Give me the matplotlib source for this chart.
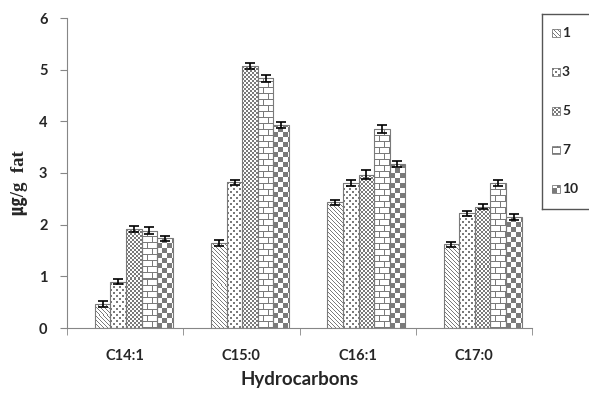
import numpy as np
import matplotlib
matplotlib.use("Agg")
from matplotlib import pyplot as plt
from matplotlib.colors import ListedColormap
from matplotlib.patches import Rectangle

# hydrocarbon content per storage day
categories = ["C14:1", "C15:0", "C16:1", "C17:0"]
days = ["1", "3", "5", "7", "10"]
day1 = [0.47, 1.65, 2.43, 1.62]
day3 = [0.90, 2.82, 2.80, 2.22]
day5 = [1.92, 5.07, 2.97, 2.35]
day7 = [1.88, 4.83, 3.85, 2.80]
day10 = [1.74, 3.93, 3.17, 2.15]
err1 = [0.06, 0.06, 0.05, 0.05]
err3 = [0.05, 0.05, 0.06, 0.05]
err5 = [0.06, 0.05, 0.08, 0.05]
err7 = [0.07, 0.07, 0.07, 0.06]
err10 = [0.05, 0.05, 0.06, 0.05]

series = [day1, day3, day5, day7, day10]
errors = [err1, err3, err5, err7, err10]
kinds = ["diag", "dots", "fine", "brick", "check"]

GRAY = "#7a7a7a"
TEXT = "#262626"
pat_cmap = ListedColormap(["white", GRAY])
FONT = "Lato"


def pattern(kind, h, w):
    i, j = np.mgrid[0:h, 0:w]
    if kind == "diag":
        g = (i + j) % 4 == 0
    elif kind == "dots":
        g = ((i % 6 < 2) & (j % 6 < 2)) | (((i + 3) % 6 < 2) & ((j + 3) % 6 < 2))
    elif kind == "fine":
        g = ((i // 2) + (j // 2)) % 2 == 0
    elif kind == "brick":
        shift = np.where((i // 6) % 2 == 0, 0, 5)
        g = (i % 6 == 0) | ((j + shift) % 10 == 0)
    else:
        g = ((i // 5) + (j // 5)) % 2 == 0
    return g.astype(float)


def fill_patch(ax, patch, kind):
    x0, y0 = patch.get_x(), patch.get_y()
    x1, y1 = x0 + patch.get_width(), y0 + patch.get_height()
    (px0, py0), (px1, py1) = ax.transData.transform([(x0, y0), (x1, y1)])
    w = max(int(round(px1 - px0)), 1)
    h = max(int(round(py1 - py0)), 1)
    im = ax.imshow(pattern(kind, h, w), cmap=pat_cmap, vmin=0, vmax=1,
                   extent=(x0, x1, y0, y1), origin="lower",
                   interpolation="nearest", aspect="auto", zorder=1)
    im.set_clip_path(patch)


fig = plt.figure(figsize=(5.89, 3.93), dpi=100)
ax = fig.add_axes([67 / 589, 1 - 328 / 393, 465 / 589, 310 / 393])
ax.set_xlim(-0.5, 3.5)
ax.set_ylim(0, 6)

width = 0.134
x = np.arange(len(categories))
for k, (vals, errs, kind) in enumerate(zip(series, errors, kinds)):
    pos = x + (k - 2) * width + 0.075
    bars = ax.bar(pos, vals, width, facecolor="none", edgecolor=GRAY,
                  linewidth=0.8, zorder=2)
    for b in bars:
        fill_patch(ax, b, kind)
    ax.errorbar(pos, vals, yerr=errs, fmt="none", ecolor="black",
                elinewidth=1.2, capsize=3.5, capthick=1.2, zorder=3)

ax.set_xlim(-0.5, 3.5)
ax.set_ylim(0, 6)

for side in ["top", "right"]:
    ax.spines[side].set_visible(False)
for side in ["left", "bottom"]:
    ax.spines[side].set_color("#868686")

ax.set_yticks(range(7))
ax.set_xticks(x)
ax.set_xticklabels(categories)
ax.set_xticks(np.arange(-0.5, 4.0, 1.0), minor=True)
ax.tick_params(axis="x", which="major", length=0, pad=15)
ax.tick_params(axis="x", which="minor", length=5, color="#868686")
ax.tick_params(axis="y", length=5, color="#868686", pad=9)
for lab in ax.get_xticklabels() + ax.get_yticklabels():
    lab.set_fontfamily(FONT)
    lab.set_fontweight("bold")
    lab.set_fontsize(10.5)
    lab.set_color(TEXT)

ax.set_xlabel("Hydrocarbons", fontfamily=FONT, fontweight="bold",
              fontsize=13.5, color=TEXT, labelpad=6)
fig.text(19 / 589, 1 - 183 / 393, "㎍/g  fat", rotation=90, ha="center",
         va="center", fontsize=13.5, fontweight="bold", color=TEXT,
         family=["Liberation Serif", "Noto Sans CJK KR"])

# legend box, partly running off the right edge
lax = fig.add_axes([542 / 589, 1 - 209 / 393, 60 / 589, 195 / 393])
lax.set_xlim(0, 60)
lax.set_ylim(0, 195)
lax.set_xticks([])
lax.set_yticks([])
for sp in lax.spines.values():
    sp.set_color("#555555")
    sp.set_linewidth(1.0)
for k, (label, kind) in enumerate(zip(days, kinds)):
    yc = 176 - 39 * k
    sq = Rectangle((10, yc - 4), 8, 8, facecolor="none", edgecolor=GRAY,
                   linewidth=0.6, zorder=2)
    lax.add_patch(sq)
    fill_patch(lax, sq, kind)
    lax.text(20, yc, label, ha="left", va="center", fontsize=10,
             fontweight="bold", fontfamily=FONT, color=TEXT)
lax.set_xlim(0, 60)
lax.set_ylim(0, 195)

fig.savefig("out.png", dpi=100)
